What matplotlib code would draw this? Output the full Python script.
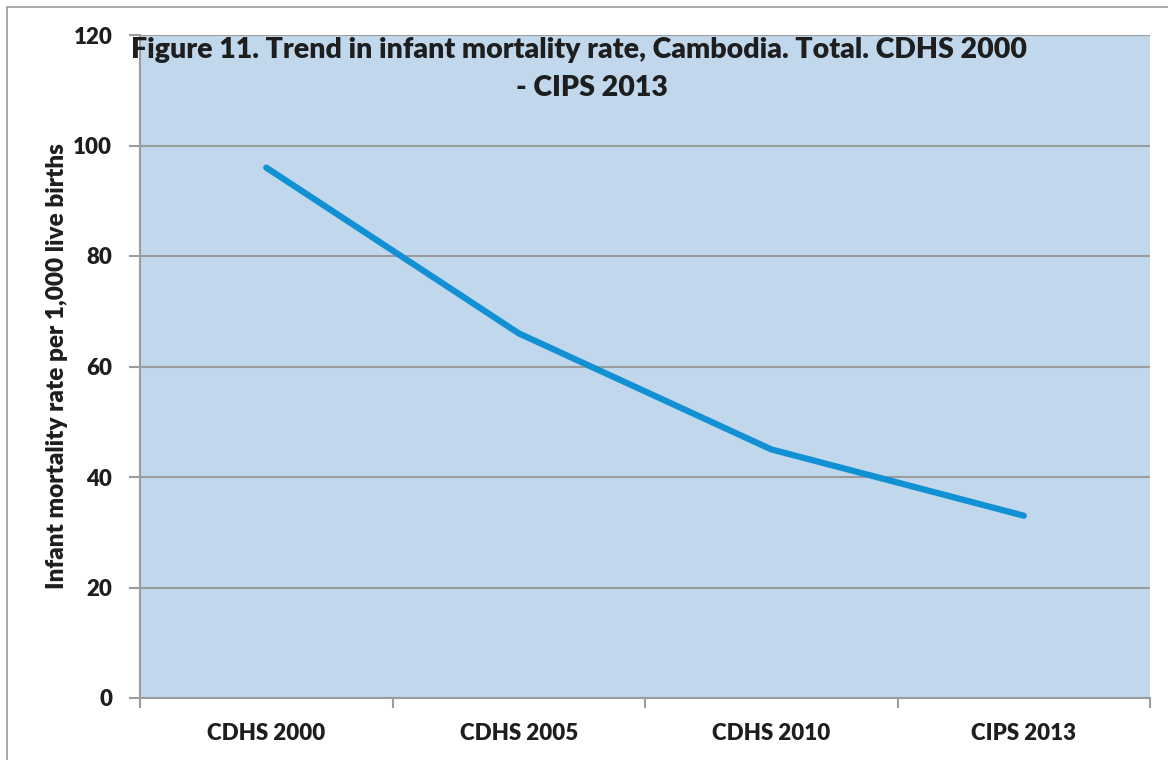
import numpy as np
import matplotlib.pyplot as plt
from matplotlib.patches import Rectangle

# --------------------------------------------------
# data
# --------------------------------------------------
surveys = ["CDHS 2000", "CDHS 2005", "CDHS 2010", "CIPS 2013"]
imr = [96, 66, 45, 33]
y_ticks = [0, 20, 40, 60, 80, 100, 120]

title_1 = "Figure 11. Trend in infant mortality rate, Cambodia. Total. CDHS 2000"
title_2 = "- CIPS 2013"
ylabel = "Infant mortality rate per 1,000 live births"

WEIGHT = "heavy"
TXT = "#1e1e1e"

plt.rcParams["font.family"] = ["Lato", "DejaVu Sans"]

fig = plt.figure(figsize=(11.68, 7.6), dpi=100)
ax = fig.add_axes([140 / 1168, 62 / 760, 1010 / 1168, 663 / 760])

# outer chart border (only left/top visible in the crop)
fig.patches.append(Rectangle((7 / 1168, -0.1), 1.2, 1.1 - 7 / 760,
                             transform=fig.transFigure, fill=False,
                             edgecolor="#9a9a9a", linewidth=1.2, zorder=0))

ax.set_facecolor("#c0d7ec")
x = np.arange(len(surveys))
ax.plot(x, imr, color="#1190d3", linewidth=4.5, solid_capstyle="round", zorder=3)

ax.set_xlim(-0.5, len(surveys) - 0.5)
ax.set_ylim(0, 120)
ax.set_yticks(y_ticks)
ax.set_yticklabels([str(v) for v in y_ticks], fontsize=16, fontweight=WEIGHT, color=TXT)
ax.yaxis.grid(True, color="#9c9c9c", linewidth=1.5)
ax.set_axisbelow(True)

# category boundaries as major ticks, names centred as minor ticks
ax.set_xticks(np.arange(-0.5, len(surveys), 1.0))
ax.set_xticklabels([])
ax.set_xticks(x, minor=True)
ax.set_xticklabels(surveys, minor=True, fontsize=16, fontweight=WEIGHT, color=TXT)
ax.tick_params(axis="x", which="major", length=7, color="#9c9c9c", width=1.5)
ax.tick_params(axis="x", which="minor", length=0, pad=18)
ax.tick_params(axis="y", length=8, color="#9c9c9c", width=1.5, pad=12)

for side in ["top", "right"]:
    ax.spines[side].set_visible(False)
for side in ["left", "bottom"]:
    ax.spines[side].set_color("#9c9c9c")
    ax.spines[side].set_linewidth(1.5)

ax.set_ylabel(ylabel, fontsize=17.5, fontweight=WEIGHT, color=TXT, labelpad=4)

fig.text(579 / 1168, 1 - 50 / 760, title_1, ha="center", va="center", fontsize=20.5,
         fontweight=WEIGHT, color=TXT)
fig.text(592 / 1168, 1 - 88 / 760, title_2, ha="center", va="center", fontsize=20.5,
         fontweight=WEIGHT, color=TXT)

fig.savefig("out.png", dpi=100)
